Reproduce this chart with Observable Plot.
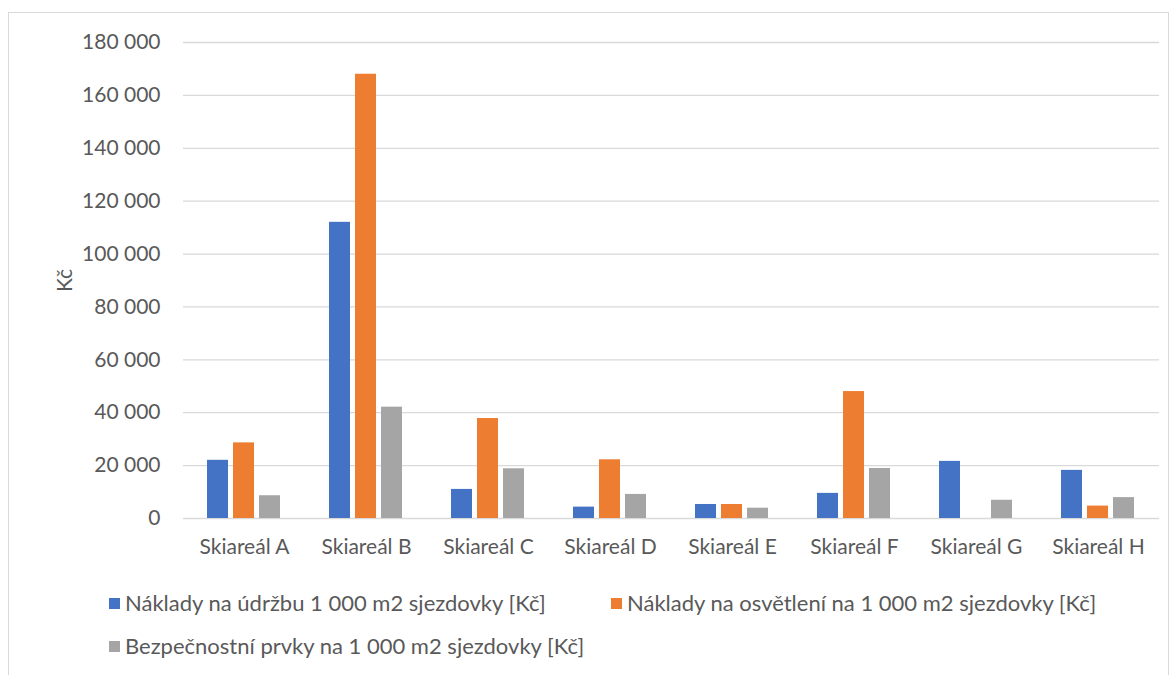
<!DOCTYPE html>
<html>
<head>
<meta charset="utf-8">
<script src="https://cdn.jsdelivr.net/npm/d3@7"></script>
<script src="https://cdn.jsdelivr.net/npm/@observablehq/plot@0.6"></script>
<style>
  html, body { margin: 0; padding: 0; background: #fff; }
  body { position: relative; width: 1172px; height: 675px; overflow: hidden; font-family: Lato, "Open Sans", sans-serif; }
  #frame { position: absolute; left: 8px; top: 12px; width: 1161px; height: 700px; border: 1px solid #d9d9d9; box-sizing: border-box; }
  #chart { position: absolute; left: 0; top: 0; }
  .leg { position: absolute; font-size: 22px; color: #595959; white-space: nowrap; line-height: 24px; }
  .sw { display: inline-block; width: 11px; height: 11px; margin-right: 5px; vertical-align: 2px; }
</style>
</head>
<body>
<div id="frame"></div>
<div id="chart"></div>
<div id="legend"></div>
<script>
const categories = ["Skiareál A","Skiareál B","Skiareál C","Skiareál D","Skiareál E","Skiareál F","Skiareál G","Skiareál H"];
const seriesNames = [
  "Náklady na údržbu 1 000 m2 sjezdovky [Kč]",
  "Náklady na osvětlení na 1 000 m2 sjezdovky [Kč]",
  "Bezpečnostní prvky na 1 000 m2 sjezdovky [Kč]"
];
const udrzba    = [22000, 112000, 11000, 4300, 5300, 9500, 21600, 18200];
const osvetleni = [28600, 168000, 37800, 22200, 5300, 48000, 0, 4700];
const bezpecnost= [8600, 42100, 18800, 9100, 3900, 18900, 6900, 7900];
const yTicks = [0, 20000, 40000, 60000, 80000, 100000, 120000, 140000, 160000, 180000];
const colors = ["#4472C4", "#ED7D31", "#A5A5A5"];

const seriesValues = [udrzba, osvetleni, bezpecnost];
const data = [];
categories.forEach((c, i) => {
  seriesNames.forEach((s, j) => data.push({cat: c, series: s, value: seriesValues[j][i]}));
});

const fmt = d3.formatLocale({decimal: ",", thousands: " ", grouping: [3], currency: ["", " Kč"]}).format(",");

const plot = Plot.plot({
  width: 1172,
  height: 570,
  marginTop: 42,
  marginBottom: 52,
  marginLeft: 183,
  marginRight: 13,
  style: {fontFamily: "Lato, 'Open Sans', sans-serif", fontSize: "21px", color: "#595959", background: "transparent"},
  fx: {domain: categories, padding: 0, label: null},
  x: {domain: seriesNames, paddingInner: 0.19, paddingOuter: 0.94, axis: null},
  y: {domain: [0, 180000], ticks: yTicks},
  color: {domain: seriesNames, range: colors},
  marks: [
    Plot.gridY(yTicks, {stroke: "#d9d9d9", strokeOpacity: 1, strokeWidth: 1.3}),
    Plot.axisY(yTicks, {tickSize: 0, tickPadding: 23, tickFormat: fmt, label: "Kč", labelAnchor: "center", labelOffset: 126, labelArrow: "none", fill: "#595959", fontSize: 21}),
    Plot.axisFx({anchor: "bottom", tickSize: 0, tickPadding: 21, label: null, fill: "#595959", fontSize: 21}),
    Plot.barY(data, {fx: "cat", x: "series", y: "value", fill: "series"})
  ]
});
document.getElementById("chart").appendChild(plot);

const legendPos = [[109, 591], [611, 591], [109, 634]];
const legend = document.getElementById("legend");
seriesNames.forEach((s, j) => {
  const d = document.createElement("div");
  d.className = "leg";
  d.style.left = legendPos[j][0] + "px";
  d.style.top = legendPos[j][1] + "px";
  d.innerHTML = `<span class="sw" style="background:${colors[j]}"></span>${s}`;
  legend.appendChild(d);
});
</script>
</body>
</html>
